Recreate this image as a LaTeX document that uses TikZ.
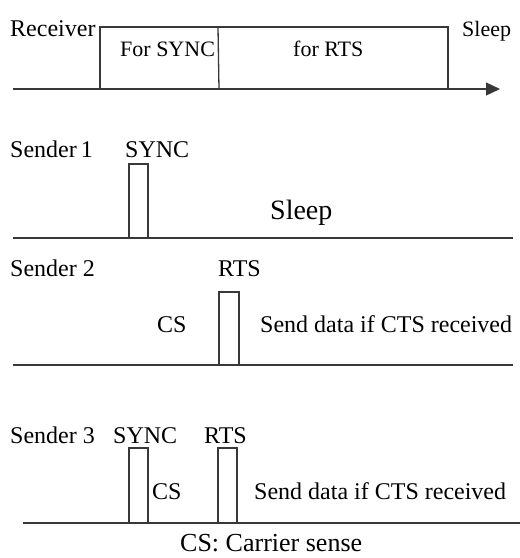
\documentclass[tikz,border=0pt]{standalone}
\usepackage{fontspec}
\setmainfont{Liberation Serif}
\usetikzlibrary{arrows.meta}
\begin{document}
\begin{tikzpicture}[x=1pt,y=-1pt,
  ln/.style={draw=black!78,line width=1.3pt},
  lbl/.style={anchor=base west,inner sep=0pt,text=black,font=\fontsize{24}{26}\selectfont},
  small/.style={lbl,font=\fontsize{22}{26}\selectfont},
  big/.style={lbl,font=\fontsize{28}{30}\selectfont},
  notetext/.style={lbl,font=\fontsize{26}{30}\selectfont}]
\useasboundingbox (0,0) rectangle (520,558);
% Receiver
\coordinate (axL) at (13,89);
\coordinate (axR) at (500,89);
\draw[ln,-{Triangle[length=14pt,width=13pt]}] (axL) -- (axR);
\draw[ln] (100,89) -- (100,27) -- (448,27) -- (448,89);
\draw[ln] (218,27) -- (219,89);
\node[lbl] (rcv) at (10,36) {Receiver};
\node[small] (rsl) at (462,36) {Sleep};
\node[small] (fsync) at (120,56) {For SYNC};
\node[small] (frts) at (293,56) {for RTS};
% Sender 1
\node[lbl] (s1) at (10,157) {Sender\,1};
\node[lbl] (s1sync) at (125,157) {SYNC};
\draw[ln] (13,238) -- (513,238);
\draw[ln] (129,238) -- (129,164) -- (148,164) -- (148,238);
\node[big] (s1sl) at (270,219) {Sleep};
% Sender 2
\node[lbl] (s2) at (10,276) {Sender 2};
\node[lbl] (s2rts) at (218,276) {RTS};
\draw[ln] (13,365) -- (513,365);
\draw[ln] (219,365) -- (219,292) -- (239,292) -- (239,365);
\node[lbl] (s2cs) at (157,332) {CS};
\node[lbl] (s2sd) at (260,332) {Send data if CTS received};
% Sender 3
\node[lbl] (s3) at (10,443) {Sender 3};
\node[lbl] (s3sync) at (113,443) {SYNC};
\node[lbl] (s3rts) at (204,443) {RTS};
\draw[ln] (23,523) -- (520,523);
\draw[ln] (129,523) -- (129,448) -- (148,448) -- (148,523);
\draw[ln] (218,523) -- (218,448) -- (237,448) -- (237,523);
\node[lbl] (s3cs) at (152,499) {CS};
\node[lbl] (s3sd) at (254,499) {Send data if CTS received};
\node[notetext] (note) at (180,551) {CS: Carrier sense};
\end{tikzpicture}
\end{document}
